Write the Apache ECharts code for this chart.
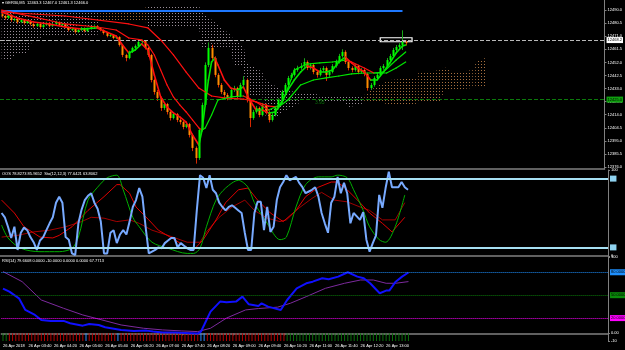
<!DOCTYPE html>
<html><head><meta charset="utf-8">
<script src="https://cdn.jsdelivr.net/npm/echarts@6/dist/echarts.min.js"></script>
<style>html,body{margin:0;padding:0;background:#000}#c{width:625px;height:350px}</style>
</head><body><div id="c"></div>
<script>
// ---------- data ----------
const slotCount = 190;
const timeLabels = ['26 Apr 2018','26 Apr 03:40','26 Apr 04:20','26 Apr 05:00','26 Apr 05:40','26 Apr 06:20','26 Apr 07:00','26 Apr 07:40','26 Apr 08:20','26 Apr 09:00','26 Apr 09:40','26 Apr 10:20','26 Apr 11:00','26 Apr 11:40','26 Apr 12:20','26 Apr 13:00'];
const labelBars = [0,8,16,24,32,40,48,56,64,72,80,88,96,104,112,120];
const priceTicks = [12376.0,12385.5,12395.0,12404.5,12414.0,12423.5,12433.0,12442.5,12452.0,12461.5,12471.0,12480.5,12490.0];
// [open, close, low, high]
const candles = [
[12487.0,12485.7,12484.5,12488.5],[12485.7,12484.2,12483.0,12486.5],[12484.2,12486.4,12483.5,12487.5],[12486.4,12482.8,12481.5,12487.0],[12482.8,12483.5,12481.8,12484.5],
[12483.5,12481.3,12480.0,12484.0],[12481.3,12482.8,12480.5,12483.8],[12482.8,12480.6,12479.5,12483.5],[12480.6,12482.1,12480.0,12483.0],[12482.1,12479.9,12478.8,12482.8],
[12479.9,12478.4,12477.2,12480.5],[12478.4,12479.9,12477.8,12480.8],[12479.9,12477.7,12476.5,12480.5],[12477.7,12479.2,12477.0,12480.0],[12479.2,12480.6,12478.5,12481.5],
[12480.6,12478.4,12477.5,12481.2],[12478.4,12479.9,12477.8,12480.8],[12479.9,12481.3,12479.2,12482.3],[12481.3,12479.2,12478.2,12481.8],[12479.2,12479.9,12478.5,12480.8],
[12479.9,12477.7,12476.8,12480.3],[12477.7,12475.5,12474.5,12478.2],[12475.5,12476.3,12474.8,12477.2],[12476.3,12474.1,12473.0,12476.8],[12474.1,12475.5,12473.5,12476.3],
[12475.5,12477.0,12474.8,12477.8],[12477.0,12474.8,12473.8,12477.5],[12474.8,12476.3,12474.0,12477.2],[12476.3,12477.7,12475.8,12478.6],[12477.7,12478.4,12476.9,12479.5],
[12478.4,12477.0,12476.2,12479.0],[12477.0,12475.5,12474.6,12477.6],[12475.5,12473.3,12472.2,12476.0],[12473.3,12471.2,12470.2,12473.9],[12471.2,12471.9,12470.5,12472.8],
[12471.9,12469.7,12468.8,12472.4],[12469.7,12470.4,12468.9,12471.3],[12470.4,12464.6,12463.5,12471.0],[12464.6,12457.4,12455.8,12465.3],[12457.4,12455.2,12452.8,12458.2],
[12455.2,12459.6,12454.3,12460.5],[12459.6,12462.5,12458.8,12463.4],[12462.5,12463.9,12461.6,12465.0],[12463.9,12466.8,12463.2,12467.8],[12466.8,12467.5,12465.6,12468.6],
[12467.5,12462.5,12461.4,12468.2],[12462.5,12457.4,12456.0,12463.3],[12457.4,12439.2,12437.5,12458.2],[12439.2,12430.5,12428.6,12440.3],[12430.5,12426.2,12424.0,12432.0],
[12426.2,12418.9,12416.8,12427.2],[12418.9,12421.8,12417.5,12423.2],[12421.8,12416.0,12414.2,12422.6],[12416.0,12411.6,12409.8,12417.0],[12411.6,12414.5,12410.6,12415.8],
[12414.5,12410.2,12408.6,12415.3],[12410.2,12408.7,12406.9,12411.5],[12408.7,12405.1,12403.4,12409.6],[12405.1,12407.3,12404.2,12408.6],[12407.3,12399.3,12397.5,12408.1],
[12399.3,12389.9,12387.6,12400.3],[12389.9,12382.6,12378.5,12391.0],[12382.6,12402.9,12381.2,12404.2],[12402.9,12421.1,12401.8,12422.8],[12421.1,12450.1,12420.0,12452.0],
[12450.1,12462.5,12448.6,12466.5],[12462.5,12455.2,12453.8,12464.8],[12455.2,12442.9,12441.2,12456.4],[12442.9,12435.6,12433.8,12444.2],[12435.6,12430.5,12428.9,12437.0],
[12430.5,12428.3,12426.5,12432.0],[12428.3,12426.2,12424.5,12429.7],[12426.2,12432.0,12425.3,12433.5],[12432.0,12433.4,12430.6,12435.0],[12433.4,12427.6,12426.0,12434.3],
[12427.6,12435.6,12426.6,12437.2],[12435.6,12439.2,12434.6,12442.0],[12439.2,12424.7,12422.9,12440.3],[12424.7,12411.6,12405.0,12425.8],[12411.6,12416.0,12410.3,12417.5],
[12416.0,12418.9,12414.8,12420.4],[12418.9,12413.8,12412.2,12419.9],[12413.8,12421.1,12412.8,12422.6],[12421.1,12416.0,12414.2,12422.1],[12416.0,12410.2,12408.4,12417.1],
[12410.2,12413.8,12409.0,12415.3],[12413.8,12418.9,12412.8,12420.2],[12418.9,12424.7,12417.8,12426.0],[12424.7,12430.5,12423.6,12432.0],[12430.5,12435.6,12429.4,12437.0],
[12435.6,12440.7,12434.5,12442.2],[12440.7,12442.9,12439.4,12444.4],[12442.9,12446.5,12441.8,12448.0],[12446.5,12447.9,12445.2,12449.6],[12447.9,12449.4,12446.6,12451.5],
[12449.4,12452.3,12448.2,12455.0],[12452.3,12447.9,12446.4,12453.4],[12447.9,12450.1,12446.8,12451.6],[12450.1,12445.0,12443.4,12451.2],[12445.0,12442.9,12441.0,12446.2],
[12442.9,12446.5,12441.8,12448.0],[12446.5,12447.9,12445.2,12449.4],[12447.9,12442.9,12438.5,12449.0],[12442.9,12445.0,12441.5,12446.5],[12445.0,12449.4,12444.0,12450.8],
[12449.4,12452.3,12448.2,12454.0],[12452.3,12456.6,12451.2,12458.2],[12456.6,12459.6,12455.5,12461.5],[12459.6,12452.3,12450.8,12460.8],[12452.3,12447.9,12446.2,12453.4],
[12447.9,12446.5,12444.8,12449.2],[12446.5,12449.4,12445.3,12450.8],[12449.4,12445.0,12443.4,12450.3],[12445.0,12446.5,12443.8,12447.9],[12446.5,12443.6,12441.9,12447.6],
[12443.6,12433.4,12431.5,12444.6],[12433.4,12435.6,12432.0,12437.0],[12435.6,12440.7,12434.4,12442.0],[12440.7,12442.9,12439.6,12444.3],[12442.9,12447.9,12441.8,12449.3],
[12447.9,12449.4,12446.7,12450.8],[12449.4,12453.7,12448.3,12455.2],[12453.7,12456.6,12452.6,12458.2],[12456.6,12461.0,12455.5,12462.5],[12461.0,12463.2,12459.5,12464.6],
[12463.2,12464.6,12461.8,12466.0],[12464.6,12466.8,12461.0,12475.3],[12466.8,12466.0,12464.3,12467.8]
];
// moving averages: [bar, price]
const maFast = [[0,12488.6],[5,12484.2],[10,12481.3],[15,12479.9],[20,12477.7],[25,12476.3],[30,12477.0],[33,12474.1],[36,12471.2],[38,12464.6],[40,12458.8],[42,12461.0],[44,12465.4],[46,12461.0],[48,12442.9],[50,12426.9],[52,12419.6],[54,12415.3],[56,12412.4],[58,12408.7],[60,12399.3],[62,12392.0],[63,12402.9],[64,12421.1],[65,12439.2],[66,12452.3],[67,12455.2],[68,12450.1],[70,12439.2],[72,12433.4],[74,12432.0],[76,12434.1],[78,12424.7],[80,12417.4],[82,12417.4],[84,12415.3],[86,12416.0],[88,12423.3],[90,12432.0],[92,12439.2],[94,12445.0],[96,12449.4],[98,12447.9],[100,12445.0],[102,12445.0],[104,12446.5],[106,12452.3],[108,12455.9],[110,12451.6],[112,12447.9],[114,12445.0],[116,12439.2],[118,12439.2],[120,12445.0],[122,12451.6],[124,12458.8],[126,12463.9],[127,12464.6]];
const maMid = [[0,12490.0],[10,12485.0],[20,12479.9],[30,12477.7],[36,12475.5],[40,12469.7],[44,12468.3],[46,12464.6],[48,12457.4],[50,12446.5],[52,12435.6],[54,12426.9],[56,12421.1],[58,12416.0],[60,12410.2],[62,12404.4],[63,12402.9],[64,12404.4],[66,12413.8],[68,12424.7],[72,12426.9],[76,12427.6],[80,12423.3],[84,12417.4],[88,12421.8],[90,12433.4],[92,12446.5],[96,12450.8],[100,12451.6],[104,12452.3],[108,12453.7],[110,12452.3],[114,12447.9],[117,12444.3],[120,12445.0],[124,12453.7],[127,12459.6]];
const maSlow = [[0,12488.6],[20,12485.7],[40,12479.9],[46,12477.0],[50,12468.3],[54,12457.4],[58,12445.0],[62,12433.4],[66,12427.6],[70,12426.2],[76,12425.4],[80,12423.3],[84,12420.3],[87,12419.6],[90,12424.7],[94,12435.6],[98,12439.2],[102,12440.7],[106,12442.1],[110,12443.6],[114,12444.3],[118,12444.3],[121,12444.3],[124,12447.9],[127,12452.3]];
// Ichimoku cloud: bar, Senkou A, Senkou B
const kumoBars = [0,3,4,8,9,10,13,30,31,45,46,62,63,72,73,76,77,82,83,87,88,93,94,99,100,108,109,113,114,117,120,122,130,131,138,139,141,142,148,149,152];
const kumoA = [12453.7,12453.7,12457.4,12457.4,12464.6,12468.3,12470.4,12470.4,12491.5,12491.5,12477.7,12477.7,12463.2,12463.2,12448.7,12448.7,12426.9,12426.9,12412.4,12412.4,12416.0,12421.1,12424.7,12424.7,12423.3,12422.5,12419.6,12421.1,12428.3,12433.4,12437.0,12439.2,12440.7,12444.3,12446.5,12448.7,12446.5,12444.3,12446.5,12452.3,12455.2];
const kumoB = [12488.6,12488.6,12488.6,12488.6,12490.0,12491.5,12490.0,12490.0,12482.8,12482.8,12492.9,12492.9,12488.6,12471.9,12468.3,12464.6,12451.6,12445.0,12439.2,12433.4,12432.0,12430.5,12430.5,12429.1,12428.3,12427.6,12426.9,12426.9,12422.5,12422.5,12422.5,12421.1,12421.1,12422.5,12422.5,12432.0,12432.0,12432.0,12433.4,12434.1,12434.1];
const blueLevel = 12489.3, blueLevelBars = [0,126];
const bidLine = 12468.2, greenLine = 12425.0;
const boxBars = [119,129], boxPrices = [12469.9,12467.0];
const noteText = '3.95', notePoint = [100, 12422.8];
// stochastic pane
const stochMain = [50,45,34,21,34,7,27,33,30,22,16,7,18,22,30,38,45,62,69,62,22,19,3,1,38,54,65,70,73,62,55,40,3,3,27,30,15,25,30,25,40,57,65,79,69,34,3,5,7,10,9,15,18,21,21,10,15,12,9,7,7,53,94,91,79,94,77,73,62,57,53,57,59,56,53,50,27,7,7,50,63,63,30,57,28,34,65,80,86,94,88,90,92,85,80,73,75,77,80,69,50,38,27,62,69,92,73,85,73,38,50,46,42,51,19,5,15,24,71,56,79,98,80,80,80,86,80,77];
const stochGreen = [[0,36],[2,21],[6,9],[12,5],[18,5],[22,9],[24,22],[27,65],[30,80],[33,91],[36,94],[38,77],[41,45],[43,34],[47,16],[52,9],[58,3],[60,3],[62,9],[64,34],[67,65],[70,79],[74,88],[77,80],[79,62],[83,38],[87,19],[89,22],[92,57],[95,83],[99,92],[103,92],[105,94],[108,91],[110,77],[113,53],[115,34],[118,19],[120,16],[123,34],[126,71]];
const stochRed = [[0,65],[4,50],[7,34],[12,22],[16,21],[18,24],[22,34],[27,53],[32,69],[36,83],[37,83],[40,73],[42,57],[46,42],[49,30],[54,19],[58,10],[60,7],[63,19],[67,42],[70,62],[74,77],[77,79],[80,65],[84,50],[88,40],[92,53],[95,69],[99,80],[103,86],[105,86],[108,77],[112,62],[115,50],[119,38],[122,28],[126,45]];
const stochDark = [[0,22],[5,24],[10,28],[15,30],[20,34],[25,40],[28,45],[32,44],[36,40],[40,42],[43,38],[47,30],[52,24],[58,16],[62,16],[64,28],[68,45],[72,57],[76,65],[79,53],[83,44],[87,40],[89,42],[93,56],[97,67],[100,74],[104,65],[108,63],[112,57],[115,53],[119,42],[123,42],[126,62]];
const stochLevels = [90,10];
// RSI pane
const rsiLine = [[0,58.7],[2,54.6],[5,45.9],[7,30.7],[10,24.1],[12,17.6],[15,16.3],[19,16.3],[21,13.2],[25,10.1],[27,12.3],[30,11.0],[32,8.0],[37,4.5],[41,3.2],[45,3.6],[47,2.3],[50,1.0],[54,1.0],[57,0.6],[61,-0.3],[62,2.3],[63,11.0],[65,28.5],[68,41.6],[70,40.7],[73,41.6],[75,48.1],[77,38.1],[80,35.9],[81,39.4],[83,35.0],[87,30.7],[89,43.7],[92,59.0],[95,65.6],[97,67.7],[100,72.1],[102,70.8],[105,74.3],[108,80.0],[111,74.3],[113,72.1],[115,65.6],[118,52.5],[120,56.0],[121,56.0],[123,67.7],[125,74.3],[127,79.7]];
const rsiMa = [[0,80.9],[6,67.7],[12,43.7],[19,32.8],[25,24.1],[31,17.6],[37,11.0],[44,6.7],[50,4.5],[56,3.2],[61,2.3],[65,6.7],[70,20.0],[76,30.7],[80,32.5],[86,34.3],[90,39.4],[95,48.1],[101,59.0],[107,65.6],[112,69.9],[116,69.9],[120,65.6],[123,65.6],[127,67.8]];
const rsiLevels = [80,50,20];
const histLevel = -10;
const histState = 'uu' + 'dddddddddddddddddddddddd' + 'n' + 'ddddddddd' + 'n' + 'ddddddddddddddddddddddddd' + 'nn' + 'ddddddddddddddddddddddddd' + 'uuuuuuuuuuuuuuuuuuuuuuuuuuuuuuuuuuuuuuu';

// ---------- rendering ----------
const FONT = 'Liberation Sans';
const cats = Array.from({length: slotCount}, (_, i) => String(i));
function dots(color){ const cv=document.createElement('canvas'); cv.width=3; cv.height=3; const g=cv.getContext('2d'); g.fillStyle=color; g.fillRect(1,1,1,1); return {image:cv, repeat:'repeat'}; }
const patUp = dots('#a8703f'), patDn = dots('#9a8e9a');
function segs(pts){ const o=[]; for(let k=1;k<pts.length;k++) o.push([pts[k-1][0],pts[k-1][1],pts[k][0],pts[k][1]]); return o; }
function slopeSeries(pts, width){
  return {type:'custom', xAxisIndex:0, yAxisIndex:0, data:segs(pts), encode:{x:[0,2], y:[1,3]}, z:5, silent:true, animation:false, clip:true,
    renderItem:(p,api)=>{ const a=api.coord([api.value(0),api.value(1)]), b=api.coord([api.value(2),api.value(3)]);
      const up = api.value(3) >= api.value(1);
      return {type:'line', shape:{x1:a[0],y1:a[1],x2:b[0],y2:b[1]}, style:{stroke: up?'#00e600':'#ff1010', lineWidth:width, lineCap:'round'}}; }};
}
const kumoQuads = [];
for (let k=1;k<kumoBars.length;k++) kumoQuads.push([kumoBars[k-1],kumoA[k-1],kumoB[k-1],kumoBars[k],kumoA[k],kumoB[k]]);
const axisGray = '#808080';
const lab = {color:'#fff', fontSize:4, fontFamily:FONT};
function yAx(grid, min, max, custom, fmt){
  return {type:'value', gridIndex:grid, position:'right', min, max, splitLine:{show:false},
    axisLine:{show:true, lineStyle:{color:axisGray, width:1}},
    axisTick:{show:true, length:2, lineStyle:{color:axisGray}, customValues:custom},
    axisLabel:Object.assign({margin:3, customValues:custom, formatter:fmt}, lab)};
}
function xAx(grid, showLabels){
  return {type:'category', gridIndex:grid, data:cats, boundaryGap:true,
    axisLine:{show:true, lineStyle:{color:axisGray, width:1.5}},
    axisTick:{show:showLabels, length:2, alignWithLabel:true, interval:(i)=>labelBars.includes(i), lineStyle:{color:axisGray}},
    axisLabel:Object.assign({show:showLabels, margin:3, align:'left', interval:(i)=>labelBars.includes(i),
      formatter:(v,i)=>timeLabels[labelBars.indexOf(i)]||''}, lab)};
}
function levelLine(v, color, type, width, text, bg){
  return {yAxis:v, lineStyle:{color, type, width}, label:{show:true, position:'end', distance:2, formatter:text, backgroundColor:bg, color:'#000', fontSize:4, fontFamily:FONT, padding:[1,1]}};
}
const stateColor = {u:'#0a6e0a', d:'#b40000', n:'#2a8cff'};

const option = {
  backgroundColor:'#000', animation:false,
  title:[
    {text:'▾ GER30,M5  12463.3 12467.0 12461.3 12466.0', left:2, top:1, padding:0, textStyle:{color:'#fff', fontSize:4, fontWeight:'normal', fontFamily:FONT}},
    {text:'OOS 78.8273 85.9652  Sto(12,12,3) 77.6421 63.8062', left:2, top:172, padding:0, textStyle:{color:'#fff', fontSize:4, fontWeight:'normal', fontFamily:FONT}},
    {text:'RSI(14) 79.6608 0.0000 -10.0000 0.0000 0.0000 67.7713', left:2, top:259, padding:0, textStyle:{color:'#fff', fontSize:4, fontWeight:'normal', fontFamily:FONT}}
  ],
  grid:[
    {left:0, right:17, top:0, height:169},
    {left:0, right:17, top:170, height:86},
    {left:0, right:17, top:257, height:84}
  ],
  xAxis:[xAx(0,false), xAx(1,false), xAx(2,true)],
  yAxis:[
    yAx(0, 12374.6, 12497.3, priceTicks, v=>v.toFixed(1)),
    yAx(1, 0, 100, [0,100], v=>String(v)),
    yAx(2, -10, 100, [-10,0,100], v=>v===0?'0.00':String(v))
  ],
  series:[
    {type:'custom', xAxisIndex:0, yAxisIndex:0, data:kumoQuads, encode:{x:[0,3], y:[1,2,4,5]}, z:1, silent:true, clip:true,
      renderItem:(p,api)=>{
        const b0=api.value(0), a0=api.value(1), s0=api.value(2), b1=api.value(3), a1=api.value(4), s1=api.value(5);
        const t0=api.coord([b0,Math.max(a0,s0)]), d0=api.coord([b0,Math.min(a0,s0)]);
        const t1=api.coord([b1,Math.max(a1,s1)]), d1=api.coord([b1,Math.min(a1,s1)]);
        return {type:'polygon', shape:{points:[t0,t1,d1,d0]}, style:{fill: a0>s0?patUp:patDn}};
      }},
    {type:'line', xAxisIndex:0, yAxisIndex:0, data:[[blueLevelBars[0],blueLevel],[blueLevelBars[1],blueLevel]], symbol:'none', z:3,
      lineStyle:{color:'#1e78ff', width:2},
      markLine:{silent:true, symbol:'none', animation:false, data:[
        levelLine(bidLine,'#b8b8b8','dashed',1,String(bidLine.toFixed(1)),'#ffffff'),
        levelLine(greenLine,'#0b7a0b','dashed',1,String(greenLine.toFixed(1)),'#0fa00f')]},
      markArea:{silent:true, itemStyle:{color:'rgba(0,0,0,0)', borderColor:'#ffffff', borderWidth:1.2},
        data:[[{coord:[boxBars[0],boxPrices[0]]},{coord:[boxBars[1],boxPrices[1]]}]]}},
    {type:'custom', xAxisIndex:0, yAxisIndex:0, data:candles.map((c,i)=>[i,c[0],c[1],c[2],c[3]]), encode:{x:0, y:[1,2,3,4]}, z:4, silent:true, clip:true,
      renderItem:(p,api)=>{
        const i=api.value(0), o=api.value(1), c=api.value(2), l=api.value(3), h=api.value(4);
        const pO=api.coord([i,o]), pC=api.coord([i,c]), pL=api.coord([i,l]), pH=api.coord([i,h]);
        const up=c>=o; const x=Math.round(pO[0])+0.5;
        const top=Math.min(pO[1],pC[1]), bot=Math.max(pO[1],pC[1]);
        return {type:'group', children:[
          {type:'line', shape:{x1:x,y1:pH[1],x2:x,y2:pL[1]}, style:{stroke: up?'#17a317':'#d62800', lineWidth:1}},
          {type:'rect', shape:{x:x-1, y:top, width:2, height:Math.max(1,bot-top)}, style:{fill: up?'#00ff00':'#ff8c00'}}
        ]};
      }},
    slopeSeries(maSlow, 1.2),
    slopeSeries(maMid, 1.2),
    slopeSeries(maFast, 1.6),
    {type:'scatter', xAxisIndex:0, yAxisIndex:0, data:[notePoint], symbolSize:0, z:6,
      label:{show:true, position:'inside', formatter:noteText, color:'#0a8a0a', fontSize:5, fontFamily:FONT}},
    // stochastic
    {type:'line', xAxisIndex:1, yAxisIndex:1, data:[], z:1,
      markLine:{silent:true, symbol:'none', animation:false, data:stochLevels.map(v=>levelLine(v,'#a6dff2','solid',2,'    ','#8fd3f0'))}},
    {type:'line', xAxisIndex:1, yAxisIndex:1, data:stochDark, symbol:'none', z:2, lineStyle:{color:'#a00000', width:1}},
    {type:'line', xAxisIndex:1, yAxisIndex:1, data:stochRed, symbol:'none', z:2, lineStyle:{color:'#e00000', width:1}},
    {type:'line', xAxisIndex:1, yAxisIndex:1, data:stochGreen, symbol:'none', z:2, smooth:0.3, lineStyle:{color:'#00b000', width:1}},
    {type:'line', xAxisIndex:1, yAxisIndex:1, data:stochMain, symbol:'none', z:3, lineStyle:{color:'#78aaff', width:2}},
    // RSI
    {type:'bar', xAxisIndex:2, yAxisIndex:2, barWidth:1, z:1, silent:true,
      data:histState.split('').map(s=>({value:histLevel, itemStyle:{color:stateColor[s]}}))},
    {type:'line', xAxisIndex:2, yAxisIndex:2, data:rsiMa, symbol:'none', z:2, lineStyle:{color:'#7d2a9e', width:1},
      markLine:{silent:true, symbol:'none', animation:false, data:[
        levelLine(rsiLevels[0],'#1e90ff','dotted',1,'80.0000','#1e90ff'),
        levelLine(rsiLevels[1],'#0a7a0a','dotted',1,'50.0000','#0a8a0a'),
        levelLine(rsiLevels[2],'#ff00ff','dotted',1,'20.0000','#ff00ff')]}},
    {type:'line', xAxisIndex:2, yAxisIndex:2, data:rsiLine, symbol:'none', z:3, lineStyle:{color:'#1010ff', width:2}}
  ]
};
const chart = echarts.init(document.getElementById('c'), null, {renderer:'canvas'});
chart.setOption(option);
</script>
</body></html>
